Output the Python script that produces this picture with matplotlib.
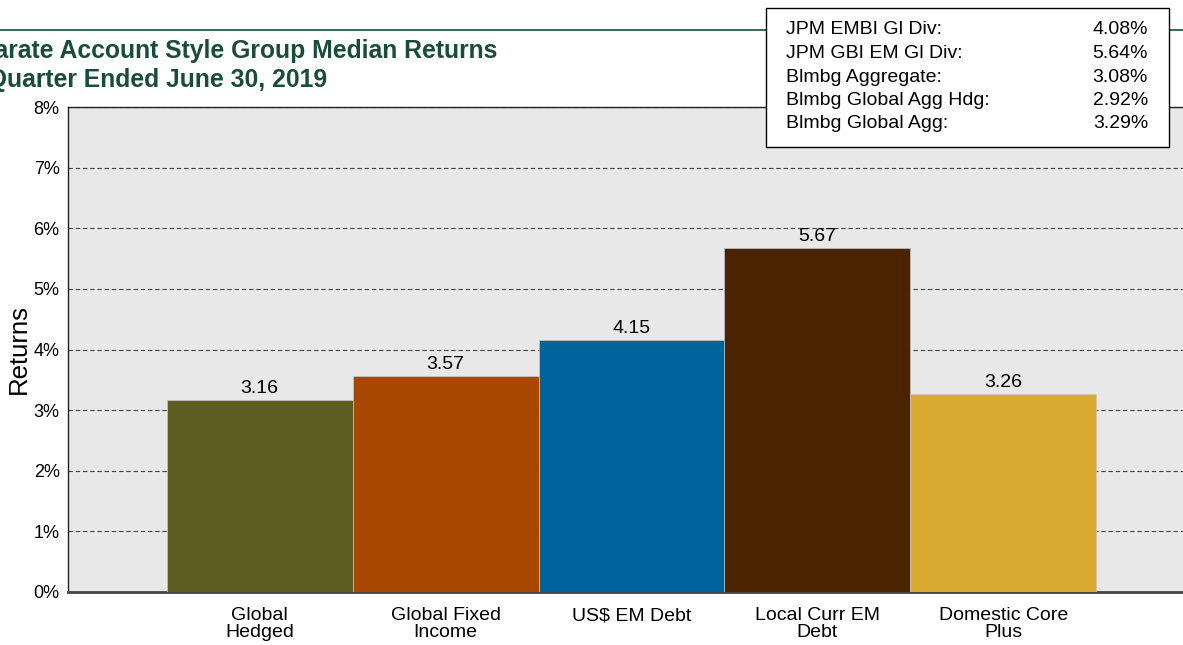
import matplotlib
matplotlib.use("Agg")
import matplotlib.pyplot as plt
import numpy as np

plt.rcParams['font.family'] = ['Liberation Sans', 'DejaVu Sans']

categories = ["Global\nHedged", "Global Fixed\nIncome", "US$ EM Debt", "Local Curr EM\nDebt", "Domestic Core\nPlus"]
returns = [3.16, 3.57, 4.15, 5.67, 3.26]
colors = ["#5C5C21", "#A84700", "#00649C", "#4A2400", "#DBAA30"]

index_names = ["JPM EMBI Gl Div:", "JPM GBI EM Gl Div:", "Blmbg Aggregate:", "Blmbg Global Agg Hdg:", "Blmbg Global Agg:"]
index_values = [4.08, 5.64, 3.08, 2.92, 3.29]

title_lines = ["Separate Account Style Group Median Returns", "for Quarter Ended June 30, 2019"]
green = "#1A4C3A"

W, H = 1183, 645
fig = plt.figure(figsize=(W / 100, H / 100), dpi=100)

# axes deliberately run off the right edge like the original
ax = fig.add_axes([68 / W, 1 - 592 / H, (1195 - 68) / W, (592 - 107) / H])
ax.set_facecolor("#E8E8E8")

x = np.arange(len(categories))
ax.bar(x, returns, width=1.0, color=colors, edgecolor="#C8C8C8", linewidth=0.5, zorder=3)
for xi, v in zip(x, returns):
    ax.text(xi, v + 0.05, "%.2f" % v, ha="center", va="bottom", fontsize=14, zorder=4)

ax.set_xlim(-1.03, len(categories) - 1 + 1.03)
ax.set_ylim(0, 8)
ax.set_yticks(range(0, 9))
ax.set_yticklabels(["%d%%" % i for i in range(0, 9)], fontsize=13)
ax.set_xticks(x)
ax.set_xticklabels(categories, fontsize=14, linespacing=0.95)
ax.tick_params(axis="both", length=0, pad=6)
ax.tick_params(axis="x", pad=11)
ax.set_ylabel("Returns", fontsize=18.5, labelpad=2)

ax.yaxis.grid(True, linestyle=(0, (4, 2.5)), color="#444444", linewidth=0.8, zorder=1)
for s in ["left", "top"]:
    ax.spines[s].set_color("#222222")
    ax.spines[s].set_linewidth(1.0)
ax.spines["bottom"].set_color("#444444")
ax.spines["bottom"].set_linewidth(2.0)
ax.spines["right"].set_visible(False)

# green rule across the top
fig.add_artist(plt.Line2D([0, 1], [1 - 30 / H, 1 - 30 / H], color=green, linewidth=1.2))

fig.text(497 / W, 1 - 58 / H, title_lines[0], fontsize=17.8, fontweight="bold", color=green,
         va="baseline", ha="right")
fig.text(327 / W, 1 - 87 / H, title_lines[1], fontsize=17.8, fontweight="bold", color=green,
         va="baseline", ha="right")

# index box
box = plt.Rectangle((766 / W, 1 - 147 / H), (1169 - 766) / W, (147 - 8) / H,
                    transform=fig.transFigure, facecolor="white", edgecolor="black", linewidth=1.0, zorder=5)
fig.add_artist(box)
for i, (name, val) in enumerate(zip(index_names, index_values)):
    yy = 1 - (30 + i * 23.5) / H
    fig.text(786 / W, yy, name, fontsize=14, va="center", ha="left", zorder=6)
    fig.text(1148 / W, yy, "%.2f%%" % val, fontsize=14, va="center", ha="right", zorder=6)

fig.savefig("out.png", dpi=100)
